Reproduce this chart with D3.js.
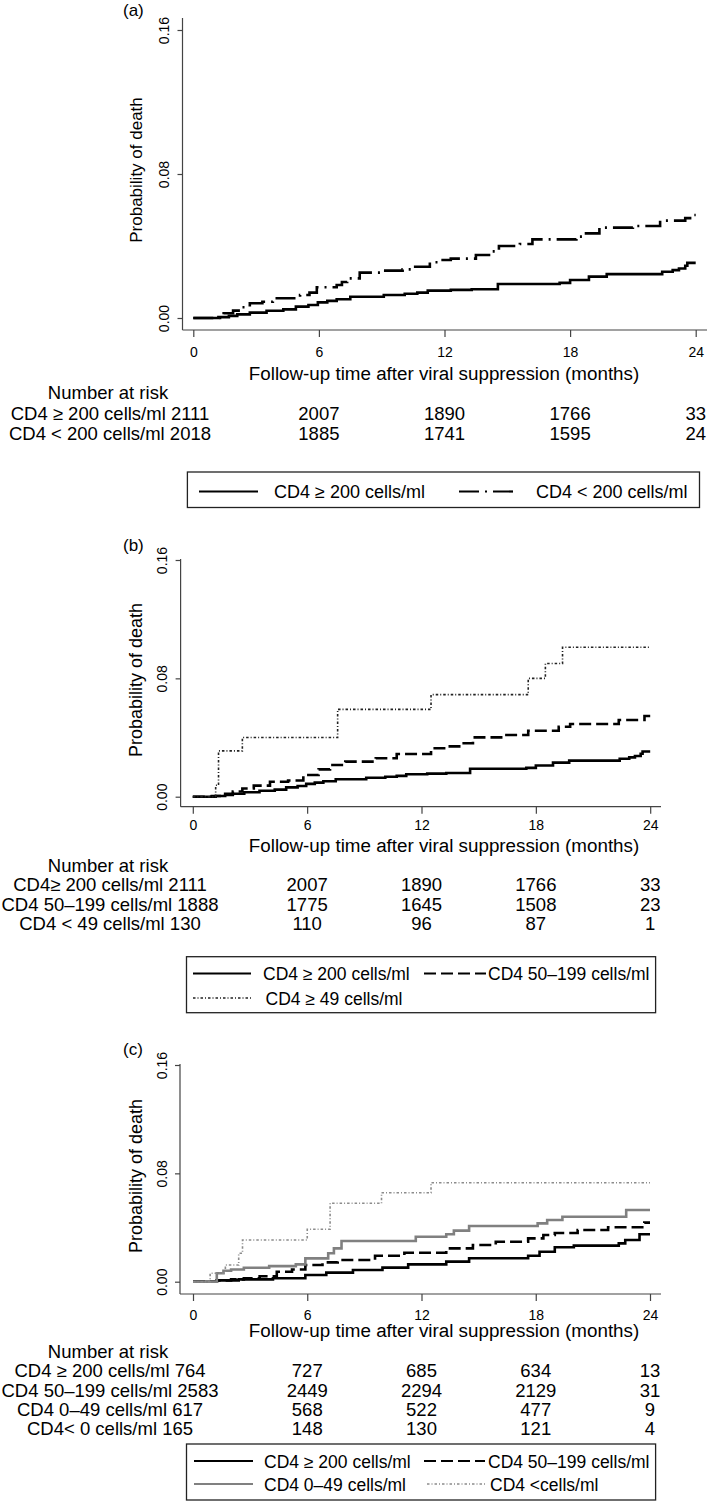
<!DOCTYPE html>
<html><head><meta charset="utf-8">
<script src="https://cdn.jsdelivr.net/npm/d3@7"></script>
<style>
html,body{margin:0;padding:0;background:#fff;}
svg{display:block;font-family:"Liberation Sans",Arial,Helvetica,sans-serif;}
</style></head>
<body>
<script>
// ---------- DATA ----------
const xTicks = [0, 6, 12, 18, 24];
const yTicks = [0, 0.08, 0.16];
const xTitle = "Follow-up time after viral suppression (months)";
const yTitle = "Probability of death";
const riskTitle = "Number at risk";

// Panel (a)
const a_cd4Ge200 = [[0,0],[1.2,0.0005],[1.7,0.0012],[2.1,0.002],[2.7,0.003],[3.5,0.004],[4.3,0.0048],[4.9,0.0063],[5.5,0.0072],[5.95,0.0087],[6.4,0.0095],[6.85,0.0104],[7.5,0.0118],[9.1,0.0128],[10.1,0.0135],[10.7,0.0141],[11.2,0.0152],[12.3,0.0156],[13.3,0.016],[14.55,0.0189],[17.5,0.0195],[18.0,0.0211],[18.9,0.023],[19.75,0.0244],[22.4,0.0257],[22.9,0.0266],[23.2,0.0275],[23.5,0.029],[23.6,0.0306],[24,0.0306]];
const a_cd4Lt200 = [[0,0],[1.35,0.0015],[1.45,0.0026],[1.9,0.0041],[2.3,0.006],[2.7,0.0082],[3.3,0.009],[3.8,0.011],[5.1,0.0128],[5.55,0.0141],[5.9,0.0171],[6.85,0.0183],[7.1,0.02],[7.35,0.022],[7.95,0.0252],[9.1,0.0263],[10.0,0.027],[10.6,0.0285],[11.3,0.031],[11.7,0.0322],[12.3,0.033],[13.5,0.035],[14.2,0.037],[14.6,0.04],[15.6,0.0411],[16.2,0.0437],[18.3,0.0452],[18.6,0.047],[19.4,0.0502],[21.0,0.0511],[22.3,0.0541],[23.5,0.0555],[23.9,0.0572],[24,0.0572]];
const a_riskLabels = ["CD4 \u2265 200 cells/ml", "CD4 < 200 cells/ml"];
const a_riskCounts = [[2111, 2007, 1890, 1766, 33], [2018, 1885, 1741, 1595, 24]];
const a_legend = ["CD4 \u2265 200 cells/ml", "CD4 < 200 cells/ml"];

// Panel (b)
const b_cd4Ge200 = a_cd4Ge200;
const b_cd4_50_199 = [[0,0],[1.0,0.0005],[1.6,0.002],[2.1,0.0035],[2.6,0.0055],[3.2,0.0075],[4.05,0.0101],[5.0,0.011],[5.8,0.0147],[6.6,0.0185],[7.2,0.0214],[8.0,0.0237],[9.6,0.026],[10.7,0.0289],[12.5,0.0327],[13.3,0.034],[14.1,0.0361],[14.7,0.0401],[16.3,0.0417],[17.6,0.0446],[19.2,0.0473],[19.8,0.0491],[22.35,0.0518],[23.7,0.0545],[24,0.0545]];
const b_cd4Lt49 = [[0,0],[1.2,0.0077],[1.35,0.031],[2.6,0.040],[7.6,0.059],[12.5,0.069],[17.6,0.080],[18.5,0.090],[19.4,0.101],[24,0.101]];
const b_riskLabels = ["CD4\u2265 200 cells/ml", "CD4 50\u2013199 cells/ml", "CD4 < 49 cells/ml"];
const b_riskCounts = [[2111, 2007, 1890, 1766, 33], [1888, 1775, 1645, 1508, 23], [130, 110, 96, 87, 1]];
const b_legend = ["CD4 \u2265 200 cells/ml", "CD4 50\u2013199 cells/ml", "CD4 \u2265 49 cells/ml"];

// Panel (c)
const c_cd4Ge200 = [[0,0],[1.25,0.001],[2.4,0.0017],[4.2,0.0025],[5.9,0.0049],[7.0,0.0067],[8.4,0.0086],[9.95,0.0104],[11.3,0.0128],[13.3,0.0148],[14.5,0.0173],[17.6,0.0192],[18.2,0.0221],[19.0,0.0254],[20.0,0.0266],[22.36,0.0283],[22.7,0.0308],[23.45,0.035],[24,0.035]];
const c_cd4_50_199 = [[0,0],[1.25,0.001],[2.0,0.0017],[2.67,0.0025],[3.5,0.004],[4.4,0.0074],[5.2,0.009],[5.9,0.0123],[6.8,0.0143],[7.6,0.016],[9.56,0.0192],[11.1,0.0214],[13.3,0.0246],[14.7,0.0271],[15.9,0.0295],[17.6,0.032],[18.4,0.0345],[19.0,0.036],[20.2,0.0382],[21.8,0.0402],[23.7,0.0436],[24,0.0436]];
const c_cd4_0_49 = [[0,0],[1.25,0.0062],[1.6,0.0081],[2.0,0.009],[2.67,0.0103],[4.0,0.0115],[5.4,0.0128],[5.9,0.0172],[7.1,0.021],[7.4,0.0246],[7.8,0.030],[11.7,0.0332],[13.3,0.035],[13.7,0.0377],[14.5,0.0411],[18.1,0.0431],[18.6,0.0456],[19.4,0.048],[22.75,0.0529],[24,0.0529]];
const c_cd4Lt0 = [[0,0],[0.9,0.0062],[1.7,0.0123],[2.4,0.021],[2.6,0.0308],[6.0,0.0387],[7.2,0.0579],[9.9,0.0657],[12.5,0.0731],[24,0.0731]];
const c_riskLabels = ["CD4 \u2265 200 cells/ml", "CD4 50\u2013199 cells/ml", "CD4 0\u201349 cells/ml", "CD4< 0 cells/ml"];
const c_riskCounts = [[764, 727, 685, 634, 13], [2583, 2449, 2294, 2129, 31], [617, 568, 522, 477, 9], [165, 148, 130, 121, 4]];
const c_legend = ["CD4 \u2265 200 cells/ml", "CD4 50\u2013199 cells/ml", "CD4 0\u201349 cells/ml", "CD4 <cells/ml"];

// ---------- STYLES ----------
const ST = {
  solid:   {stroke:"#000", w:2.6, dash:null},
  dashdot: {stroke:"#000", w:2.6, dash:"20,6,2,6"},
  dashed:  {stroke:"#000", w:2.6, dash:"12,5"},
  dotted:  {stroke:"#222", w:1.6, dash:"2.5,2,1,2"},
  gray:    {stroke:"#808080", w:2.6, dash:null},
  dotgray: {stroke:"#8c8c8c", w:1.6, dash:"2.5,2,1,2"}
};

const W = 708, H = 1501;
const svg = d3.select("body").append("svg").attr("width", W).attr("height", H);
const FONT = '"Liberation Sans",Arial,Helvetica,sans-serif';

function panel(cfg) {
  const g = svg.append("g");
  const x = d3.scaleLinear().domain([0, 24]).range(cfg.xr);
  const y = d3.scaleLinear().domain([0, 0.16]).range(cfg.yr);

  // panel letter
  g.append("text").attr("x", 123).attr("y", cfg.letterY).attr("font-size", 17).text(cfg.letter);

  // axis lines
  g.append("line").attr("x1", cfg.axX).attr("x2", cfg.axX).attr("y1", cfg.axTop).attr("y2", cfg.axY)
    .attr("stroke", "#444").attr("stroke-width", 1.2);
  g.append("line").attr("x1", cfg.axX).attr("x2", cfg.axRight).attr("y1", cfg.axY).attr("y2", cfg.axY)
    .attr("stroke", "#444").attr("stroke-width", 1.2);

  // x axis
  const xa = g.append("g").attr("transform", `translate(0,${cfg.axY})`)
    .call(d3.axisBottom(x).tickValues(xTicks).tickSize(7).tickSizeOuter(0).tickPadding(cfg.xPad).tickFormat(d3.format("d")));
  xa.select(".domain").remove();
  xa.selectAll("line").attr("stroke", "#444").attr("stroke-width", 1.2);
  xa.selectAll("text").attr("font-size", 14).attr("font-family", FONT).attr("fill", "#000");

  // y axis
  const ya = g.append("g").attr("transform", `translate(${cfg.axX},0)`)
    .call(d3.axisLeft(y).tickValues(yTicks).tickSize(5).tickSizeOuter(0).tickFormat(d3.format(".2f")));
  ya.select(".domain").remove();
  ya.selectAll("line").attr("stroke", "#444").attr("stroke-width", 1.2);
  ya.selectAll("text").attr("x", null).attr("dy", null).attr("text-anchor", "middle")
    .attr("transform", "translate(-13.5,0) rotate(-90)")
    .attr("font-size", 14).attr("font-family", FONT).attr("fill", "#000");

  // y title
  g.append("text").attr("transform", `translate(142,${cfg.yTitleY}) rotate(-90)`)
    .attr("text-anchor", "middle").attr("font-size", cfg.yTitleSize).text(yTitle);
  // x title
  g.append("text").attr("x", 444).attr("y", cfg.xTitleY).attr("text-anchor", "middle")
    .attr("font-size", 18.8).text(xTitle);

  // curves
  const line = d3.line().x(d => x(d[0])).y(d => y(d[1])).curve(d3.curveStepAfter);
  cfg.series.forEach(s => {
    const st = ST[s.style];
    g.append("path").datum(s.data).attr("d", line).attr("fill", "none")
      .attr("stroke", st.stroke).attr("stroke-width", st.w)
      .attr("stroke-dasharray", st.dash).attr("stroke-linejoin", "miter").attr("stroke-linecap", "butt");
  });

  // number at risk
  g.append("text").attr("x", 108).attr("y", cfg.riskTitleY).attr("text-anchor", "middle")
    .attr("font-size", 18.5).text(riskTitle);
  cfg.riskLabels.forEach((lab, i) => {
    const yy = cfg.riskY[i];
    g.append("text").attr("x", 110).attr("y", yy).attr("text-anchor", "middle")
      .attr("font-size", 18.5).text(lab + " " + cfg.riskCounts[i][0]);
    cfg.riskCounts[i].slice(1).forEach((c, j) => {
      g.append("text").attr("x", x(xTicks[j + 1])).attr("y", yy).attr("text-anchor", "middle")
        .attr("font-size", 18.5).text(c);
    });
  });

  // legend
  const L = cfg.legend;
  g.append("rect").attr("x", L.box[0]).attr("y", L.box[1]).attr("width", L.box[2] - L.box[0])
    .attr("height", L.box[3] - L.box[1]).attr("fill", "#fff").attr("stroke", "#222").attr("stroke-width", 1.3);
  L.items.forEach(it => {
    const st = ST[it.style];
    g.append("line").attr("x1", it.x1).attr("x2", it.x2).attr("y1", it.y).attr("y2", it.y)
      .attr("stroke", st.stroke).attr("stroke-width", st.w * 0.85).attr("stroke-dasharray", st.dash);
    g.append("text").attr("x", it.tx).attr("y", it.y + 6.5).attr("font-size", L.fs).text(it.label);
  });
}

panel({
  letter: "(a)", letterY: 16,
  xr: [193.3, 695.7], yr: [318, 30],
  axX: 182.5, axTop: 18, axY: 330, axRight: 707, xPad: 10,
  yTitleY: 170, yTitleSize: 17, xTitleY: 380,
  series: [{data: a_cd4Ge200, style: "solid"}, {data: a_cd4Lt200, style: "dashdot"}],
  riskTitleY: 399, riskY: [419.5, 440], riskLabels: a_riskLabels, riskCounts: a_riskCounts,
  legend: {box: [187.4, 472, 699.5, 507.5], fs: 18, items: [
    {x1: 199, x2: 258, y: 491.5, tx: 274, label: a_legend[0], style: "solid"},
    {x1: 459, x2: 517, y: 491.5, tx: 536, label: a_legend[1], style: "dashdot"}
  ]}
});

panel({
  letter: "(b)", letterY: 551,
  xr: [192.8, 650.2], yr: [796.7, 560],
  axX: 180.6, axTop: 559, axY: 806.7, axRight: 661, xPad: 6.5,
  yTitleY: 680, yTitleSize: 18, xTitleY: 852,
  series: [{data: b_cd4Ge200, style: "solid"}, {data: b_cd4_50_199, style: "dashed"}, {data: b_cd4Lt49, style: "dotted"}],
  riskTitleY: 872, riskY: [890.5, 911, 930], riskLabels: b_riskLabels, riskCounts: b_riskCounts,
  legend: {box: [186.5, 956.7, 655.6, 1012.7], fs: 17.5, items: [
    {x1: 193, x2: 251, y: 973.5, tx: 263, label: b_legend[0], style: "solid"},
    {x1: 424, x2: 486, y: 973.5, tx: 488, label: b_legend[1], style: "dashed"},
    {x1: 193, x2: 253, y: 998, tx: 265.5, label: b_legend[2], style: "dotted"}
  ]}
});

panel({
  letter: "(c)", letterY: 1055,
  xr: [193, 650], yr: [1281.7, 1065],
  axX: 180, axTop: 1064, axY: 1294, axRight: 661, xPad: 9,
  yTitleY: 1176, yTitleSize: 18, xTitleY: 1337,
  series: [{data: c_cd4Ge200, style: "solid"}, {data: c_cd4_50_199, style: "dashed"}, {data: c_cd4_0_49, style: "gray"}, {data: c_cd4Lt0, style: "dotgray"}],
  riskTitleY: 1358, riskY: [1377, 1396.5, 1416, 1435], riskLabels: c_riskLabels, riskCounts: c_riskCounts,
  legend: {box: [186.5, 1444, 655.6, 1500], fs: 17.5, items: [
    {x1: 194, x2: 253, y: 1461, tx: 264, label: c_legend[0], style: "solid"},
    {x1: 424, x2: 485, y: 1461, tx: 488, label: c_legend[1], style: "dashed"},
    {x1: 194, x2: 253, y: 1484, tx: 264, label: c_legend[2], style: "gray"},
    {x1: 427, x2: 485, y: 1484, tx: 490, label: c_legend[3], style: "dotgray"}
  ]}
});
</script>
</body></html>
